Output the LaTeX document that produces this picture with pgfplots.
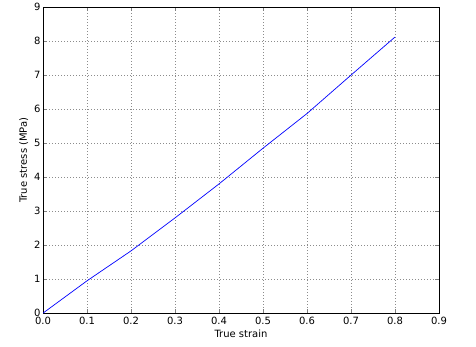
\documentclass[border=0pt]{standalone}
\usepackage{pgfplots}
\pgfplotsset{compat=1.18}
\usepackage{fontspec}
\setmainfont{DejaVu Sans}
\begin{document}
\fontsize{10}{12}\selectfont
\begin{tikzpicture}
\begin{axis}[
  scale only axis,
  width=396pt, height=306pt,
  xmin=0, xmax=0.9, ymin=0, ymax=9,
  xtick={0,0.1,...,0.9},
  ytick={0,1,...,9},
  xticklabel style={/pgf/number format/.cd,fixed,fixed zerofill,precision=1},
  /pgf/number format/assume math mode=true,
  tick align=inside,
  tick pos=both,
  major tick length=4pt,
  grid=major,
  major grid style={black!45, dash pattern=on 0.6pt off 2.4pt, line width=0.4pt},
  axis line style={black, line width=0.8pt},
  xlabel={True strain},
  ylabel={True stress (MPa)},
  xlabel style={yshift=1pt},
  ylabel style={yshift=-1pt},
  tick label style={font=\fontsize{10}{12}\selectfont},
  yticklabel style={xshift=1pt},
  label style={font=\fontsize{10}{12}\selectfont},
]
\addplot[blue, line width=0.7pt, mark=none] coordinates {
(0,0) (0.1,0.95) (0.2,1.83) (0.3,2.8) (0.4,3.8) (0.5,4.85) (0.6,5.87) (0.7,7.0) (0.8,8.12)
};
\end{axis}
\path (current axis.south west) ++(-43pt,-33pt) coordinate (bl);
\path (current axis.north east) ++(37pt,7pt) coordinate (tr);
\useasboundingbox (bl) rectangle (tr);
\end{tikzpicture}
\end{document}
